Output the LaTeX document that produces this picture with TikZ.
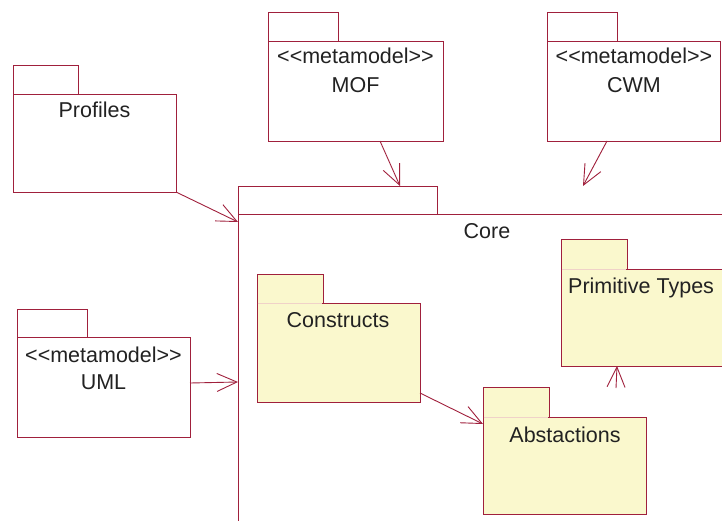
\documentclass[tikz,border=0pt]{standalone}
\usepackage{fontspec}
\setmainfont{Liberation Sans}
\usetikzlibrary{arrows.meta,calc}
\definecolor{lc}{RGB}{160,32,60}
\definecolor{pale}{RGB}{240,210,200}
\definecolor{pfill}{RGB}{250,248,205}
\definecolor{txt}{RGB}{34,34,34}
\tikzset{
  pkg/.style={draw=lc, line width=0.9pt, anchor=north west, inner sep=0pt, outer sep=0pt, fill=white},
  ypkg/.style={pkg, fill=pfill},
  lbl/.style={text=txt, font=\fontsize{21.5}{25}\selectfont, anchor=base, inner sep=0pt},
  arr/.style={draw=lc, line width=0.9pt, -{Straight Barb[length=20pt,width=18pt]}},
  paleline/.style={draw=pale, line width=0.9pt}
}
\begin{document}
\begin{tikzpicture}[x=1pt,y=-1pt]
\useasboundingbox (0,0) rectangle (722,521);
\clip (0,0) rectangle (722,521);
% Profiles
\node[pkg, minimum width=163pt, minimum height=98pt] (prof) at (13,94) {};
\node[pkg, minimum width=65pt, minimum height=29pt] (proftab) at (13,65) {};
\node[lbl] (proflbl) at (94.5,118) {Profiles};
% MOF
\node[pkg, minimum width=175pt, minimum height=100pt] (mof) at (268,41) {};
\node[pkg, minimum width=70pt, minimum height=29pt] (moftab) at (268,12) {};
\node[lbl] (mofst) at (355.5,64) {{<}{<}metamodel{>}{>}};
\node[lbl] (moflbl) at (355.5,93) {MOF};
% CWM
\node[pkg, minimum width=173pt, minimum height=100pt] (cwm) at (547,41) {};
\node[pkg, minimum width=70pt, minimum height=29pt] (cwmtab) at (547,12) {};
\node[lbl] (cwmst) at (634,64) {{<}{<}metamodel{>}{>}};
\node[lbl] (cwmlbl) at (634,93) {CWM};
% UML
\node[pkg, minimum width=173pt, minimum height=100pt] (uml) at (17,337) {};
\node[pkg, minimum width=70pt, minimum height=28pt] (umltab) at (17,309) {};
\node[lbl] (umlst) at (103.5,362) {{<}{<}metamodel{>}{>}};
\node[lbl] (umllbl) at (103.5,389) {UML};
% Core
\node[pkg, minimum width=600pt, minimum height=400pt] (core) at (238,214) {};
\node[pkg, minimum width=199pt, minimum height=28pt] (coretab) at (238,186) {};
\node[lbl] (corelbl) at (487,238) {Core};
% Constructs
\node[ypkg, minimum width=163pt, minimum height=99pt] (cons) at (257,303) {};
\node[ypkg, minimum width=66pt, minimum height=29pt] (constab) at (257,274) {};
\draw[paleline] ([xshift=0.6pt]constab.south west) -- ([xshift=-0.6pt]constab.south east);
\node[lbl] (conslbl) at (338,327) {Constructs};
% Primitive Types
\node[ypkg, minimum width=200pt, minimum height=97pt] (prim) at (561,269) {};
\node[ypkg, minimum width=66pt, minimum height=30pt] (primtab) at (561,239) {};
\draw[paleline] ([xshift=0.6pt]primtab.south west) -- ([xshift=-0.6pt]primtab.south east);
\node[lbl, anchor=base west] (primlbl) at (568,293) {Primitive Types};
% Abstactions
\node[ypkg, minimum width=163pt, minimum height=97pt] (abs) at (483,417) {};
\node[ypkg, minimum width=66pt, minimum height=30pt] (abstab) at (483,387) {};
\draw[paleline] ([xshift=0.6pt]abstab.south west) -- ([xshift=-0.6pt]abstab.south east);
\node[lbl] (abslbl) at (565,442) {Abstactions};
% connectors
\draw[arr] (prof.south east) -- ($(core.north west)+(0,8)$);
\draw[arr] ($(mof.south west)+(112,0)$) -- ($(coretab.north west)+(162,0)$);
\draw[arr] ($(cwm.south west)+(60,0)$) -- ($(coretab.north west)+(345,0)$);
\draw[arr] ($(uml.south east)+(0,-54)$) -- ($(core.north west)+(0,168)$);
\draw[arr] ($(cons.south east)+(0,-9)$) -- ($(abs.north west)+(0,7)$);
\draw[arr] ($(abs.north west)+(133,-29)$) -- ($(prim.south west)+(56,0)$);
\end{tikzpicture}
\end{document}
